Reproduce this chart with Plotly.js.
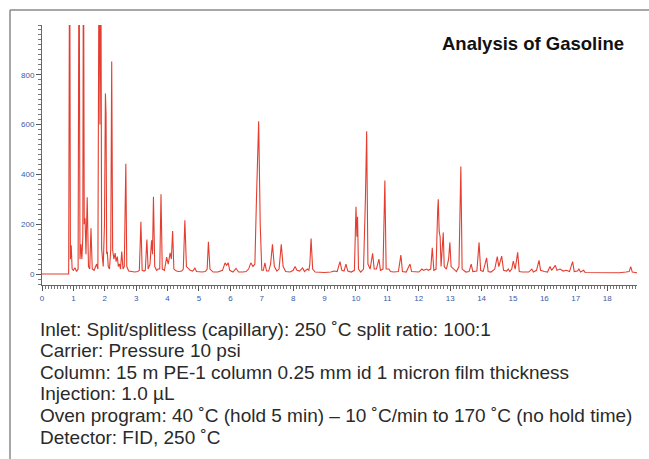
<!DOCTYPE html>
<html>
<head>
<meta charset="utf-8">
<script src="https://cdn.plot.ly/plotly-3.0.1.min.js"></script>
<style>
html,body{margin:0;padding:0;background:#fff;}
#chart{width:649px;height:459px;}
</style>
</head>
<body>
<div id="chart"></div>
<script>
// Retention time (min) and detector signal
const rtMin = [
 0,0.85,0.88,0.905,0.93,0.96,1.0,1.05,1.1,1.15,1.18,1.21,1.24,1.27,1.30,1.32,1.345,1.37,1.40,
 1.44,1.48,1.52,1.56,1.60,1.66,1.74,1.78,1.82,1.845,1.87,1.90,1.95,1.99,2.02,2.04,2.06,2.08,2.11,2.15,2.19,2.22,
 2.25,2.29,2.33,2.36,2.40,2.43,2.47,2.50,2.54,2.58,2.62,2.65,2.67,2.70,2.76,2.85,2.95,3.05,3.10,3.15,3.19,3.25,
 3.29,3.34,3.38,3.44,3.49,3.52,3.55,3.59,3.65,3.70,3.75,3.79,3.83,3.90,3.97,4.02,4.08,4.12,4.16,4.20,4.28,4.36,
 4.45,4.50,4.55,4.60,4.66,4.72,4.80,4.87,4.92,5.0,5.1,5.2,5.26,5.30,5.35,5.45,5.6,5.75,5.83,5.88,5.93,5.98,6.08,
 6.18,6.26,6.4,6.5,6.58,6.65,6.72,6.78,6.83,6.90,6.95,7.0,7.05,7.10,7.15,7.22,7.28,7.34,7.40,7.48,7.55,7.62,7.68,
 7.76,7.9,8.0,8.06,8.12,8.2,8.3,8.36,8.45,8.5,8.53,8.57,8.62,8.7,9.0,9.2,9.3,9.4,9.49,9.55,9.62,9.68,9.74,9.85,
 9.95,10.0,10.03,10.05,10.08,10.15,10.24,10.30,10.34,10.38,10.45,10.53,10.58,10.65,10.73,10.78,10.86,10.92,10.96,
 11.05,11.1,11.2,11.35,11.43,11.48,11.6,11.72,11.77,11.9,12.0,12.1,12.15,12.25,12.3,12.38,12.43,12.48,12.55,12.6,
 12.62,12.65,12.68,12.71,12.75,12.78,12.81,12.88,12.95,12.99,13.03,13.1,13.2,13.28,13.31,13.34,13.38,13.5,13.6,
 13.67,13.72,13.85,13.92,13.97,14.05,14.16,14.21,14.3,14.42,14.5,14.55,14.64,14.7,14.8,14.85,14.9,14.96,15.01,
 15.07,15.15,15.2,15.3,15.5,15.6,15.65,15.75,15.83,15.88,16.0,16.1,16.18,16.23,16.35,16.4,16.5,16.6,16.7,16.8,
 16.9,16.95,17.05,17.1,17.15,17.25,17.3,17.6,18.0,18.4,18.6,18.7,18.75,18.8,18.95
];
const signal = [
 0,0,1500,60,116,20,15,25,10,20,1500,60,120,60,150,1500,200,224,80,
 308,30,20,184,20,15,40,20,1500,600,1500,100,30,200,725,640,80,90,30,20,100,853,
 96,60,84,50,70,30,40,20,90,20,30,370,443,30,12,10,8,10,15,210,15,12,
 15,139,20,40,136,80,310,30,15,20,20,320,20,15,68,40,85,60,173,20,12,10,
 12,20,216,30,20,15,12,24,10,8,8,10,20,130,20,8,8,15,45,35,45,15,8,
 23,8,8,10,20,45,30,40,300,613,200,15,15,45,12,12,40,119,30,12,20,119,30,
 10,8,15,30,15,12,25,10,20,15,40,143,20,8,6,8,12,10,50,15,12,40,12,8,
 15,270,150,230,20,8,20,300,573,40,20,83,20,20,60,15,20,376,20,
 20,10,8,10,76,10,8,40,10,10,8,20,15,20,15,20,105,15,20,250,
 300,170,150,30,100,167,30,20,60,127,30,20,10,30,200,432,20,8,10,
 40,10,12,127,15,10,65,10,8,20,70,30,72,15,12,20,10,20,52,
 20,87,10,8,8,20,8,15,55,15,10,8,30,15,35,15,20,12,15,10,
 50,10,12,20,8,15,6,5,5,5,8,10,30,8,5
];
const xTickVals = [0,1,2,3,4,5,6,7,8,9,10,11,12,13,14,15,16,17,18];
const yTickVals = [0,200,400,600,800];
const chartTitle = 'Analysis of Gasoline';
const notes = [
 'Inlet: Split/splitless (capillary): 250 ˚C split ratio: 100:1',
 'Carrier: Pressure 10 psi',
 'Column: 15 m PE-1 column 0.25 mm id 1 micron film thickness',
 'Injection: 1.0 µL',
 'Oven program: 40 ˚C (hold 5 min) – 10 ˚C/min to 170 ˚C (no hold time)',
 'Detector: FID, 250 ˚C'
];

// plot-area geometry (pixels)
const L = 42, R = 637, T = 25, B = 285;
const px2x = p => (p - L) / (R - L);
const py2y = p => (B - p) / (B - T);

const tickBlue = '#3a5aa8';
const annotations = [{
  text: '<b>' + chartTitle + '</b>', xref: 'paper', yref: 'paper',
  x: px2x(533), y: py2y(44), xanchor: 'center', yanchor: 'middle', showarrow: false,
  font: {family: 'Liberation Sans, Arial, sans-serif', size: 18.5, color: '#111'}
}];
notes.forEach((t, i) => annotations.push({
  text: t, xref: 'paper', yref: 'paper', x: px2x(38), y: py2y(329 + i * 21.6),
  xanchor: 'left', yanchor: 'middle', showarrow: false,
  font: {family: 'Liberation Sans, Arial, sans-serif', size: 19, color: '#2a2a2a'}
}));

const frame = '#8a8a8a';
const shapes = [
  {type: 'line', xref: 'paper', yref: 'paper', x0: px2x(10), x1: px2x(649), y0: py2y(10), y1: py2y(10), line: {color: frame, width: 1.5}},
  {type: 'line', xref: 'paper', yref: 'paper', x0: px2x(10), x1: px2x(10), y0: py2y(10), y1: py2y(459), line: {color: frame, width: 1.5}}
];

Plotly.newPlot('chart', [{
  x: rtMin, y: signal, type: 'scatter', mode: 'lines',
  line: {color: 'rgb(228,62,48)', width: 1.1}, hoverinfo: 'skip'
}], {
  width: 649, height: 459,
  margin: {l: L, r: 649 - R, t: T, b: 459 - B, pad: 0},
  paper_bgcolor: '#fff', plot_bgcolor: '#fff',
  showlegend: false,
  xaxis: {
    range: [0, 18.95], tickvals: xTickVals, ticktext: xTickVals.map(String),
    ticks: 'outside', ticklen: 5, tickcolor: '#555', tickwidth: 1,
    showline: true, linecolor: '#666', linewidth: 1, showgrid: false, zeroline: false,
    tickfont: {family: 'Liberation Sans, Arial, sans-serif', size: 8, color: tickBlue},
    minor: {dtick: 0.1, tick0: 0, ticks: 'outside', ticklen: 3, tickcolor: '#777', showgrid: false}
  },
  yaxis: {
    range: [-44, 1000], tickvals: yTickVals, ticktext: yTickVals.map(String),
    ticks: 'outside', ticklen: 5, tickcolor: '#555', tickwidth: 1,
    showline: true, linecolor: '#666', linewidth: 1, showgrid: false, zeroline: false,
    tickfont: {family: 'Liberation Sans, Arial, sans-serif', size: 8, color: tickBlue},
    minor: {dtick: 20, tick0: 0, ticks: 'outside', ticklen: 3, tickcolor: '#777', showgrid: false}
  },
  annotations: annotations,
  shapes: shapes
}, {staticPlot: true});
</script>
</body>
</html>
